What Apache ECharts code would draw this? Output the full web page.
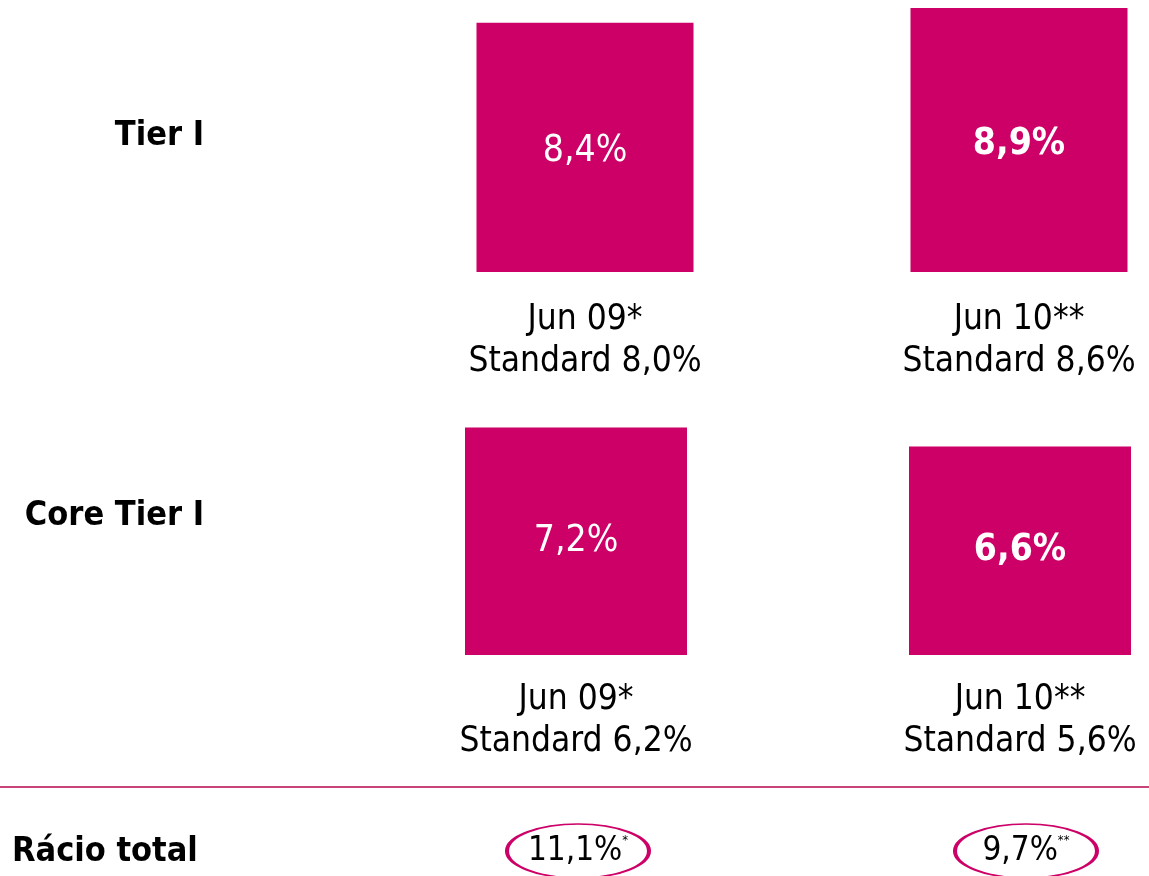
<!DOCTYPE html>
<html lang="pt">
<head>
    <meta charset="UTF-8">
    <script src="https://cdn.jsdelivr.net/npm/echarts@6/dist/echarts.min.js"></script>
    <title>Rácios de capital</title>
    <style>
        html, body { margin: 0; padding: 0; background: #fff; }
    </style>
</head>
<body>
<div id="chartmain" style="width:1149px; height: 876px;"></div>
<script type="text/javascript">
    // dados
    var periods = ['Jun 09*', 'Jun 10**'];
    var tier1 = [8.4, 8.9];
    var tier1Standard = ['8,0%', '8,6%'];
    var coreTier1 = [7.2, 6.6];
    var coreTier1Standard = ['6,2%', '5,6%'];
    var racioTotal = [11.1, 9.7];
    var racioMarks = ['*', '**'];
    var rowNames = ['Tier I', 'Core Tier I', 'Rácio total'];

    var pink = '#cc0066';
    var font = 'DejaVu Sans Condensed';

    function pct(v) {
        return v.toFixed(1).replace('.', ',') + '%';
    }

    function barData(values) {
        // o último período aparece a negrito
        return values.map(function (v, i) {
            return { value: v, label: { fontWeight: i === values.length - 1 ? 'bold' : 'normal' } };
        });
    }

    function cats(std) {
        return periods.map(function (p, i) { return p + '\nStandard ' + std[i]; });
    }

    var axisLabelStyle = {
        color: '#000', fontFamily: font, fontSize: 35, lineHeight: 42
    };
    var titleStyle = { fontFamily: font, fontSize: 34, fontWeight: 'bold', color: '#000' };

    var myChart = echarts.init(document.getElementById('chartmain'));
    myChart.setOption({
        animation: false,
        title: [
            { text: rowNames[0], right: 945, top: 119, padding: 0, textStyle: titleStyle },
            { text: rowNames[1], right: 945, top: 499, padding: 0, textStyle: titleStyle },
            { text: rowNames[2], left: 12, top: 835, padding: 0, textStyle: titleStyle }
        ],
        // colunas nas extremidades de cada grelha (boundaryGap false)
        grid: [
            { left: 585, width: 434, top: 5, height: 267 },
            { left: 576, width: 444, top: 418, height: 237 },
            { left: 578, width: 448, top: 826, height: 54 }
        ],
        xAxis: [
            { type: 'category', gridIndex: 0, data: cats(tier1Standard), boundaryGap: false,
              axisLine: { show: false }, axisTick: { show: false }, splitLine: { show: false },
              axisLabel: Object.assign({ margin: 27 }, axisLabelStyle) },
            { type: 'category', gridIndex: 1, data: cats(coreTier1Standard), boundaryGap: false,
              axisLine: { show: false }, axisTick: { show: false }, splitLine: { show: false },
              axisLabel: Object.assign({ margin: 24 }, axisLabelStyle) },
            { type: 'category', gridIndex: 2, data: periods, boundaryGap: false, show: false }
        ],
        yAxis: [
            { type: 'value', gridIndex: 0, min: 0, max: 9, show: false },
            { type: 'value', gridIndex: 1, min: 0, max: 7.5, show: false },
            { type: 'category', gridIndex: 2, data: [rowNames[2]], show: false }
        ],
        graphic: [
            { type: 'line', shape: { x1: 0, y1: 787, x2: 1149, y2: 787 },
              style: { stroke: '#c8437a', lineWidth: 2 } }
        ],
        series: [
            {
                name: rowNames[0], type: 'bar', xAxisIndex: 0, yAxisIndex: 0, clip: false,
                barWidth: 217, itemStyle: { color: pink },
                label: { show: true, position: 'inside', offset: [0, 4], color: '#fff', fontFamily: font, fontSize: 37,
                         formatter: function (p) { return pct(p.value); } },
                data: barData(tier1)
            },
            {
                name: rowNames[1], type: 'bar', xAxisIndex: 1, yAxisIndex: 1, clip: false,
                barWidth: 222, itemStyle: { color: pink },
                label: { show: true, position: 'inside', color: '#fff', fontFamily: font, fontSize: 37,
                         formatter: function (p) { return pct(p.value); } },
                data: barData(coreTier1)
            },
            {
                name: rowNames[2], type: 'scatter', xAxisIndex: 2, yAxisIndex: 2, clip: false,
                symbol: 'circle', symbolSize: [142, 54],
                itemStyle: { color: '#fff', borderColor: pink, borderWidth: 2.5, opacity: 1 },
                label: {
                    show: true, position: 'inside', color: '#000',
                    formatter: function (p) {
                        return '{v|' + pct(p.value[2]) + '}{s|' + racioMarks[p.dataIndex] + '}';
                    },
                    rich: {
                        v: { color: '#000', fontFamily: font, fontSize: 33 },
                        s: { color: '#000', fontFamily: font, fontSize: 13, padding: [0, 0, 20, 0] }
                    }
                },
                data: racioTotal.map(function (v, i) { return [i, 0, v]; })
            }
        ]
    });
</script>
</body>
</html>
